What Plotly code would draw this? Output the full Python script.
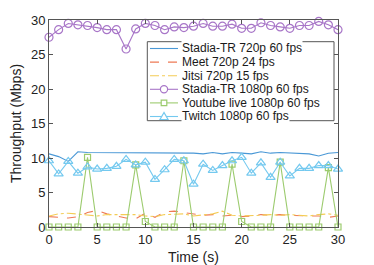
import plotly.graph_objects as go

time_s = list(range(31))

stadia_720 = [10.6, 10.2, 9.5, 10.9, 10.8, 10.8, 10.7, 10.8, 10.7, 10.8, 10.7, 10.8, 10.7, 10.8, 10.7,
              10.7, 10.6, 10.8, 10.6, 10.8, 10.7, 10.6, 10.9, 10.7, 10.8, 10.7, 10.7, 10.6, 10.3, 10.7, 10.8]
meet_720 = [1.5, 1.4, 1.3, 1.5, 2.1, 2.4, 1.9, 1.6, 1.3, 1.2, 2.0, 1.4, 2.2, 2.3, 2.1,
            1.9, 1.7, 1.8, 1.6, 1.7, 1.5, 1.6, 1.8, 1.7, 1.8, 1.7, 1.6, 1.6, 1.6, 1.4, 1.6]
jitsi_720 = [1.6, 1.9, 2.0, 1.9, 1.7, 1.6, 1.8, 1.8, 1.7, 1.8, 1.6, 1.5, 1.8, 1.9, 1.9,
             1.6, 1.7, 1.9, 2.3, 1.7, 1.6, 1.6, 1.7, 1.8, 1.7, 1.8, 1.7, 1.6, 1.8, 1.9, 1.7]
stadia_1080 = [27.5, 28.6, 29.5, 29.3, 29.2, 28.9, 28.6, 28.6, 25.8, 28.7, 29.5, 29.2, 28.6, 29.0, 28.9,
               29.1, 29.5, 29.1, 29.1, 29.4, 28.8, 28.8, 29.6, 29.2, 29.0, 28.8, 29.2, 29.2, 29.8, 29.3, 28.6]
youtube_1080 = [0, 0, 0, 0, 10.1, 0, 0, 0, 0, 9.0, 0.8, 0, 0, 0, 9.6,
                0, 0, 0, 0, 9.1, 0.8, 0, 0, 0, 9.4, 0, 0, 0, 0, 8.6, 0]
twitch_1080 = [9.6, 7.7, 9.5, 7.8, 8.7, 8.4, 8.5, 8.8, 9.8, 9.0, 9.4, 6.9, 8.3, 9.8, 9.6,
               6.2, 9.1, 8.2, 8.9, 9.6, 10.1, 7.8, 9.3, 7.2, 9.4, 7.4, 8.5, 8.5, 8.9, 8.9, 8.4]
tick_vals = [0, 5, 10, 15, 20, 25, 30]
series_names = ["Stadia-TR 720p 60 fps", "Meet 720p 24 fps", "Jitsi 720p 15 fps",
                "Stadia-TR 1080p 60 fps", "Youtube live 1080p 60 fps", "Twitch 1080p 60 fps"]
series_values = [stadia_720, meet_720, jitsi_720, stadia_1080, youtube_1080, twitch_1080]

# styles: color, dash, marker symbol, marker size
styles = [
    ("#4a98d6", "solid", None, 0),
    ("#ee7a55", "dash", None, 0),
    ("#f4cc55", "dashdot", None, 0),
    ("#a876c8", "solid", "circle-open", 8),
    ("#9ccb6e", "solid", "square-open", 6),
    ("#74c9ef", "solid", "triangle-up-open", 8),
]

fig = go.Figure()
for name, ys, (color, dash, sym, size) in zip(series_names, series_values, styles):
    mode = "lines+markers" if sym else "lines"
    kw = {}
    if sym:
        kw["marker"] = dict(symbol=sym, size=size, color=color, line=dict(width=1.2, color=color))
    fig.add_trace(go.Scatter(x=time_s, y=ys, name=name, mode=mode, cliponaxis=False, showlegend=False,
                             line=dict(color=color, width=1.1, dash=dash), **kw))

font_family = "Liberation Sans, Arial"
axis_common = dict(showline=True, mirror="ticks", linecolor="#555555", linewidth=1,
                   ticks="inside", ticklen=4, tickcolor="#555555", showgrid=False, zeroline=False,
                   automargin=False,
                   tickfont=dict(family=font_family, size=13, color="#222222"))
fig.update_xaxes(range=[0, 30], tickvals=tick_vals,
                 title=dict(text="Time (s)", font=dict(family=font_family, size=14, color="#222222")),
                 **axis_common)
fig.update_yaxes(range=[0, 30], tickvals=tick_vals,
                 title=dict(text="Throughput (Mbps)", font=dict(family=font_family, size=14, color="#222222")),
                 **axis_common)

# --- compact MATLAB-style legend box (layout decoration, in paper coords) ---
PL, PT, PW, PH = 49.0, 20.0, 289.0, 207.0   # plot area in page pixels


def px(x):
    return (x - PL) / PW


def py(y):
    return (PT + PH - y) / PH


box_l, box_r, box_t, box_b = 147.3, 334.0, 41.7, 120.7
row_top, row_step = 48.5, 13.6
samp_l, samp_r, text_x = 150.0, 178.0, 180.5

shapes = [dict(type="rect", xref="paper", yref="paper", layer="above",
               x0=px(box_l), x1=px(box_r), y0=py(box_b), y1=py(box_t),
               fillcolor="white", line=dict(color="#555555", width=1))]
annotations = []
for i, (name, (color, dash, sym, size)) in enumerate(zip(series_names, styles)):
    yc = row_top + i * row_step
    shapes.append(dict(type="line", xref="paper", yref="paper", layer="above",
                       x0=px(samp_l), x1=px(samp_r), y0=py(yc), y1=py(yc),
                       line=dict(color=color, width=1.1, dash=dash)))
    xc = (samp_l + samp_r) / 2
    if sym == "circle-open":
        r = 3.6
        shapes.append(dict(type="circle", xref="paper", yref="paper", layer="above",
                           x0=px(xc - r), x1=px(xc + r), y0=py(yc + r), y1=py(yc - r),
                           fillcolor="white", line=dict(color=color, width=1.2)))
    elif sym == "square-open":
        r = 2.8
        shapes.append(dict(type="rect", xref="paper", yref="paper", layer="above",
                           x0=px(xc - r), x1=px(xc + r), y0=py(yc + r), y1=py(yc - r),
                           fillcolor="white", line=dict(color=color, width=1.2)))
    elif sym == "triangle-up-open":
        r = 4.0
        path = "M {:.5f},{:.5f} L {:.5f},{:.5f} L {:.5f},{:.5f} Z".format(
            px(xc), py(yc - r), px(xc - r), py(yc + r * 0.75), px(xc + r), py(yc + r * 0.75))
        shapes.append(dict(type="path", xref="paper", yref="paper", layer="above", path=path,
                           fillcolor="white", line=dict(color=color, width=1.2)))
    annotations.append(dict(text=name, xref="paper", yref="paper", x=px(text_x), y=py(yc),
                            xanchor="left", yanchor="middle", showarrow=False,
                            bgcolor="white", borderpad=0,
                            font=dict(family=font_family, size=12, color="#1a1a1a")))

fig.update_layout(
    width=366, height=257,
    margin=dict(l=41, r=36, t=12, b=38),
    plot_bgcolor="white", paper_bgcolor="white",
    showlegend=False,
    shapes=shapes, annotations=annotations,
)

fig.write_html("out.html")
